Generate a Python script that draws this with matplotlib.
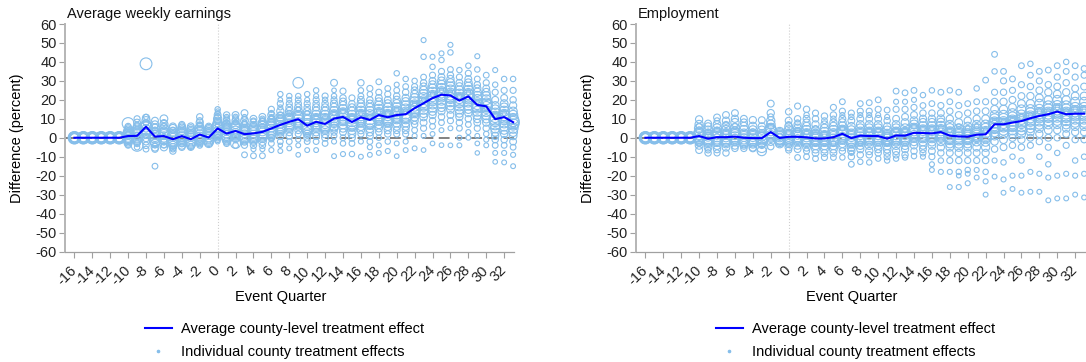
import matplotlib.pyplot as plt
from matplotlib.lines import Line2D

plt.rcParams['font.family'] = ['Liberation Sans', 'DejaVu Sans']
plt.rcParams['font.size'] = 10.5
plt.rcParams['axes.unicode_minus'] = False

# event quarters relative to treatment
quarters = list(range(-16, 34))
tick_quarters = list(range(-16, 33, 2))

# marker area for each county slot (largest county first)
county_size = [80, 72, 65, 58, 51, 45, 40, 35, 31, 27, 24, 21, 19, 17, 15, 13, 12, 11, 10, 9, 9, 8]

# average county-level treatment effect (percent)
earn_mean = [0, 0, 0, 0, 0, 0,
             0.9, 1.0, 5.8, 0.6, 0.9, -0.8, 0.9, -0.8, 1.7, 0.1,
             4.9, 2.2, 3.6, 1.9, 2.3, 3.1, 4.9, 6.8, 8.4, 9.8, 6.4, 8.4, 7.3, 10.1, 11.0, 8.3,
             10.8, 9.4, 12.0, 10.8, 12.0, 12.4, 15.6, 18.2, 20.9, 22.7, 22.3, 19.6, 21.8,
             17.3, 16.6, 9.8, 10.9, 8.2]
emp_mean = [0, 0, 0, 0, 0, 0,
            0.9, -0.5, 0.3, 0.3, 0.6, 0.0, -0.2, -0.2, 3.0, -0.1,
            0.5, 0.5, 0.2, -0.4, -0.4, 0.3, 2.1, -0.2, 1.1, 0.9, 0.9, -0.5, 1.2, 1.1, 2.6, 2.5,
            2.3, 3.0, 1.1, 0.7, 0.6, 1.6, 1.8, 7.1, 7.1, 8.0, 8.8, 10.3, 11.5, 12.4,
            13.8, 12.4, 12.7, 12.7]

# individual county effects per quarter
earn_counties = [
    [0, 0, 0, 0, 0, 0, 0, 0],  # -16
    [0, 0, 0, 0, 0, 0, 0, 0],
    [0, 0, 0, 0, 0, 0, 0, 0],
    [0, 0, 0, 0, 0, 0, 0, 0],
    [0, 0, 0, 0, 0, 0, 0, 0],
    [0, 0, 0, 0, 0, 0, 0, 0],  # -11
    [1, 7.5, 0, 2, -1, 3, -2, 4, -3, 5, 1.5, -1.5, 6, -4, 2.5, 0.5],
    [1, -4, 2, 0, 3, -1, 5, 4, -2, 6, 8, -3, 10, 1.5, -5, 7],
    [5, 39, 6, 4, 3, 7, 2, 9, 0, 10.5, -2, -4, 8, -6, 1, 11],
    [0.5, -1, 1, 2, -2, 3, -3, 5, -5, 7, 9, -6, 4, -15, 6, -4],
    [1, 0, 2, -1, 3, 5, -3, 7, 10, -5, 4, -2, 8, 6, -4],
    [-1, 0, -2, 1, -3, 2, 3, -4, 5, -5, 6, -7, 4, -6],
    [1, 0, 2, -1, 3, -2, 4, 5, -4, 6, -3, -5, 7],
    [-1, 0, -2, 1, -3, 2, 3, -4, 4, 5, 6, -5],
    [2, 1, 0, 3, -1, 5, 4, -2, 6, 8, -3, 11, 9, -4, 7],
    [0, 1, -1, 2, -2, 3, 4, -3, 5, 1, -1, 6],  # -1
    [5, 4, 6, 3, 7, 2, 8, 10, 1, 9, 12, 0, 11, -1, 15, 13, -2, 14, 6.5, 3.5],  # 0
    [2, 3, 1, 4, 0, 5, -1, 7, 6, -2, 9, 12, -3, 10, 8, 11, 2.5],
    [4, 3, 5, 2, -3, 6, 1, 7, 0, 9, 12, -1, 10, -4, 11, 8, 2.5],
    [2, 1, 3, 0, 4, 6, -1, 5, 9, -2, 13, 7, -4, -9, 10, 8, 11],
    [2, 3, 1, 4, 0, 5, -1, 6, -2, 8, 10, -4, 7, -9.5, 9, -6],
    [3, 2, 4, 1, 6, 0, 5, 8, -2, 7, 11, -4, 9, -9.5, 10, -6],
    [5, 4, 6, 3, 7, 2, 9, 1, 8, 12, 0, 10, 15, -3, 13, -6.5, 11, -1],
    [7, 6, 8, 5, 9, 4, 11, 3, 10, 14, 1, 12, 18, -2, 23, 16, -7, 20, -4],
    [8, 9, 7, 10, 6, 12, 5, 11, 14, 3, 16, 1, 18, -2, 22, 20, -5.6, 13],
    [10, 9, 11, 29, 8, 12, 7, 14, 6, 16, 4, 18, 2, 20, 22, -1, -4, -9, 15],
    [6, 7, 5, 9, 4, 10, 3, 12, 2, 14, 0, 16, 18, -2, 23, 20, -6.5, 13],  # 10
    [8, 9, 7, 10, 6, 12, 5, 14, 3, 16, 1, 18, 20, -2, 25, 22, -6.5, 11],
    [7, 8, 6, 10, 5, 12, 4, 14, 2, 16, 0, 18, 22, -3, 20, 11],
    [10, 11, 9, 12, 8, 14, 6, 16, 5, 18, 29, 3, 20, 1, 22, -2, -9.7, 25, 13],
    [11, 12, 10, 13, 9, 15, 7, 17, 5, 19, 3, 21, 24.6, 0, -3, -8.6, 14],
    [8, 9, 7, 10, 6, 12, 4, 14, 2, 16, 0, 18, 21, -3, -8.6, 11],
    [11, 10, 12, 9, 14, 8, 16, 6, 18, 4, 20, 29, 2, 22, 25, -2, -10, 13],
    [9, 10, 8, 12, 7, 14, 5, 16, 3, 18, 1, 20, 26, -2, 23, -5, -9, 11],
    [12, 11, 13, 10, 15, 9, 17, 7, 19, 5, 21, 3, 24, 29.5, 0, -4, -8, 14],
    [11, 10, 12, 9, 14, 8, 16, 6, 18, 4, 20, 2, 23, 26, -2, -7, 13],
    [12, 13, 11, 14, 10, 16, 8, 18, 6, 20, 4, 22, 2, 25, 34, 28, -3, -9.7, 15],  # 20
    [12, 13, 11, 15, 10, 17, 8, 19, 6, 21, 4, 24, 2, 27, 31, -2, -6.5, 14],
    [16, 15, 17, 14, 19, 13, 21, 11, 23, 9, 25, 7, 27, 4, 30, 1, -5.6, 18],
    [18, 19, 17, 21, 15, 23, 13, 25, 11, 27, 8, 29, 5, 32, 42.7, 51.5, 1, -6.5, 20],
    [21, 20, 22, 18, 24, 16, 26, 14, 28, 12, 30, 9, 33, 6, 37.4, 42.7, 2, -3, 23],
    [23, 22, 24, 20, 26, 18, 28, 16, 30, 14, 32, 11, 35, 8, 41, 44.5, 4, -3.9, 25],
    [22, 23, 21, 25, 19, 27, 17, 29, 15, 31, 12, 33, 9, 36, 45, 49, 5, -4, 24],
    [20, 19, 21, 17, 23, 15, 25, 13, 27, 11, 29, 8, 32, 5, 35.7, 0, -4, 22],
    [22, 21, 23, 19, 25, 17, 27, 15, 29, 13, 31, 10, 34, 7, 38, 3, 0, 24],
    [17, 18, 16, 20, 14, 22, 12, 24, 10, 26, 8, 28, 5, 31, 36, 43, 1, -3, -8, 19],
    [17, 16, 18, 14, 20, 12, 22, 10, 24, 8, 26, 5, 29, 33, 2, -1, -4, 15],  # 30
    [10, 9, 11, 7, 13, 5, 15, 3, 17, 1, 20, -1, 24, -4, 28, 35.7, -8, -12.7, 12],
    [11, 10, 12, 8, 14, 6, 16, 4, 18, 2, 21, -1, 25, -4, 31, -8, -13, 13],
    [8, 9, 7, 10, 5, 12, 3, 14, 1, 17, -2, 20, 25, -5, 31, -9, -15, 6],  # 33
]

emp_counties = [
    [0, 0, 0, 0, 0, 0, 0, 0],  # -16
    [0, 0, 0, 0, 0, 0, 0, 0],
    [0, 0, 0, 0, 0, 0, 0, 0],
    [0, 0, 0, 0, 0, 0, 0, 0],
    [0, 0, 0, 0, 0, 0, 0, 0],
    [0, 0, 0, 0, 0, 0, 0, 0],  # -11
    [1, 0, 2, -1, 3, 5, -2, 7, -4, 9.7, -6.5, 4, -3, 6],
    [-0.5, 0, -1, 1, -2, 2, -3, 4, -5, 6, 7.5, -8, 3, -6.5],
    [0, 1, -1, 2, -2, 3, 5, -4, 7, -6, 10.7, 4, -8, 9],
    [0, 1, -1, 2, -2, 4, -3, 6, -5, 9, 12, -8, 7, 3],
    [1, 0, 2, -1, 3, 5, -2, 8, -4, 10, 13, -5.6, 6],
    [0, -1, 1, -2, 2, 4, -3, 6, -4, 8, 10, -5.6],
    [0, -1, 1, -2, 2, -3, 4, 6, -5, 9.3, -5.6, 3],
    [-0.5, 0, -2, -5, 1, -7, 2, 4, -3, 6, 9.3, -4],
    [3, 2, 4, 1, 5, 0, 7, 9, -2, 13, 18, -4.7, 11, 6],
    [0, 1, -1, 2, -2, 3, -3, 1.5, -1.5, 0.5],  # -1
    [0.5, 0, 1, -1, 2, -2, 4, -3, 6, -5, 9, 13.7, -6.5, 7, 3],  # 0
    [0.5, 1, 0, 2, -1, 3, -2, 5, -4, 7, -6, 10, 16.7, -10.4, 8, 4],
    [0, 1, -1, 2, -2, 4, -3, 6, -5, 8, 10, 15, -7, -10, 12, 3],
    [-0.5, 0, -1, 1, -2, 2, -4, 4, -6, 7, -8, 10, 13, -11, 5],
    [-0.5, 0, -1, 1, -2, 3, -4, 5, -6, 7, -8, 11.4, -10.4, 9, 2],
    [0, 1, -1, 2, -2, 4, -4, 6, -6, 8, -8, 12, 16, -10.4, 10, -3],
    [2, 1, 3, 0, 4, -1, 6, -3, 8, -5, 10, -7, 14, 19, -10.4, 12, 5],
    [0, -1, 1, -2, 2, -3, 4, -5, 6, -7, 9, -10, 13, -14, 11, -8],
    [1, 0, 2, -1, 3, -2, 5, -4, 7, -6, 10, -9, 14, 18, -12.7, 12, -3],
    [1, 0, 2, -1, 3, -2, 5, -4, 7, -7, 10, -9, 14, 18.5, -13, 12, 4],
    [1, 0, 2, -1, 3, -2, 5, -4, 7, -6, 10, -8, 15, 20, -11, 12, 4],  # 10
    [-0.5, 0, -1, 1, -2, 2, -4, 4, -6, 6, -8, 9, -10, 14.6, -12, 11, -3],
    [1, 0, 2, -1, 3, -2, 5, -4, 7, -7, 10, -9, 15, 24.6, -11, 19, 4],
    [1, 0, 2, -1, 3, -2, 5, -4, 8, -6, 11, -9, 15, 23.7, -10.4, 19, 4],
    [3, 2, 4, 1, 5, 0, 7, -2, 9, -4, 12, -7, 16, 25, -9.7, 20, 6],
    [2, 3, 1, 4, 0, 6, -2, 8, -4, 10, -6, 13, -8, 17, 22.5, -10, 5],
    [2, 3, 1, 4, 0, 6, -2, 8, -4, 10, -7, 13, -10, 18, 25, -14, -17, 5],
    [3, 2, 4, 1, 6, 0, 8, -2, 10, -5, 13, -8, 17, 24, -12, -18, 5],
    [1, 2, 0, 3, -1, 5, -3, 7, -5, 10, -8, 14, -12, 19, 25, -18, -26, 4],
    [1, 0, 2, -1, 3, -3, 5, -5, 8, -8, 12, -12, 17, 24, -18, -26, 6, -20],
    [0.5, 1, 0, 2, -1, 4, -3, 6, -5, 9, -8, 13, -12, 18, -17, -24, -19, 5],  # 20
    [1.5, 2, 1, 3, 0, 5, -2, 7, -5, 10, -8, 14, -12, 19, 26, -17, -21, 6],
    [2, 1, 3, 0, 5, -2, 7, -5, 10, -8, 14, -12, 19, 30.4, -18, -23, -30, 4],
    [7, 6, 8, 5, 10, 3, 12, 1, 15, -2, 19, -6, 24, 44, 35, -12, -20.5, 9],
    [7, 8, 6, 10, 4, 12, 2, 15, -1, 19, -5, 24, 30, 35, -13, -22, -29, 9],
    [8, 7, 9, 6, 11, 4, 13, 2, 16, 0, 20, -4, 25, 31, -10, -20, -27, 10],
    [9, 8, 10, 6, 12, 4, 15, 2, 18, -1, 22, -5, 28, 38, -12, -20, -29, 11],
    [10, 11, 9, 13, 7, 15, 5, 18, 3, 22, 0, 27, -4, 33, 39, -18, -28.5, 12],
    [12, 11, 13, 9, 15, 7, 18, 5, 21, 2, 25, -2, 30, 35, -10, -19, -28.5, 14],
    [12, 13, 11, 15, 9, 17, 7, 20, 4, 24, 0, 28, -5, 35.7, -14, -21, -33, 14],
    [14, 13, 15, 11, 17, 9, 20, 7, 23, 4, 27, 0, 32, 38, -8, -20, -32, 16],  # 30
    [12, 13, 11, 15, 9, 17, 7, 20, 5, 24, 2, 29, -4, 35, 40, -19, -32, 14],
    [13, 12, 14, 10, 16, 8, 19, 6, 22, 3, 26, -1, 32, 38, -12, -20, -30, 15],
    [13, 12, 14, 10, 16, 8, 19, 6, 22, 3, 27, -1, 33, 36.5, -10, -19, -31.5, 15],  # 33
]

dot_color = '#86BEEA'
line_color = '#0000FF'
W, H = 1086, 362


def draw_panel(ax, title, means, counties, left_px):
    xs, ys, ss = [], [], []
    for q, vals in zip(quarters, counties):
        for i, v in enumerate(vals):
            xs.append(q)
            ys.append(v)
            ss.append(county_size[i])
    ax.axvline(0, color='#cfcfcf', ls=':', lw=0.8, zorder=0)
    ax.axhline(0, color='#777777', ls=(0, (6, 3)), lw=1.3, zorder=1)
    ax.scatter(xs, ys, s=ss, facecolors='none', edgecolors=dot_color,
               linewidths=0.8, zorder=2, clip_on=False)
    ax.plot(quarters, means, color=line_color, lw=1.5, zorder=3, clip_on=False)

    ax.set_xlim(-17.05, 33.1)
    ax.set_ylim(-60, 60)
    ax.set_yticks(range(-60, 61, 10))
    ax.set_xticks(tick_quarters)
    ax.set_xticklabels([str(t) for t in tick_quarters], rotation=45,
                       ha='right', va='center', rotation_mode='anchor')
    for side in ['top', 'right']:
        ax.spines[side].set_visible(False)
    ax.spines['left'].set_color('#b5b5b5')
    ax.spines['left'].set_linewidth(1.4)
    ax.spines['bottom'].set_color('#a0a0a0')
    ax.spines['bottom'].set_linewidth(0.9)
    ax.tick_params(direction='out', length=4, width=0.8, color='#a0a0a0',
                   labelcolor='#222222', labelsize=10.5)
    ax.tick_params(axis='x', pad=8)
    ax.tick_params(axis='y', pad=2)

    fig.text((left_px + 2) / W, 1 - 18 / H, title, ha='left', va='baseline',
             fontsize=10.5, color='#111111')
    fig.text((left_px - 48) / W, 1 - 138 / H, 'Difference (percent)', rotation=90,
             ha='center', va='center', fontsize=10.5)
    fig.text((left_px + 216) / W, 1 - 297 / H, 'Event Quarter', ha='center',
             va='center', fontsize=10.5)

    handles = [Line2D([], [], color=line_color, lw=1.5),
               Line2D([], [], ls='none', marker='o', markersize=1.6,
                      markerfacecolor=dot_color, markeredgecolor=dot_color)]
    labels = ['Average county-level treatment effect',
              'Individual county treatment effects']
    fig.legend(handles, labels, loc='upper left',
               bbox_to_anchor=((left_px + 80) / W, 1 - 322 / H),
               frameon=False, borderpad=0, borderaxespad=0, handlelength=1.85,
               handletextpad=0.6, labelspacing=0.6, fontsize=10.5)


fig = plt.figure(figsize=(W / 100, H / 100), dpi=100)
ax_earn = fig.add_axes([65 / W, 110.5 / H, 449 / W, 227.5 / H])
ax_emp = fig.add_axes([636 / W, 110.5 / H, 449 / W, 227.5 / H])

draw_panel(ax_earn, 'Average weekly earnings', earn_mean, earn_counties, 65)
draw_panel(ax_emp, 'Employment', emp_mean, emp_counties, 636)

fig.savefig('out.png', dpi=100)
